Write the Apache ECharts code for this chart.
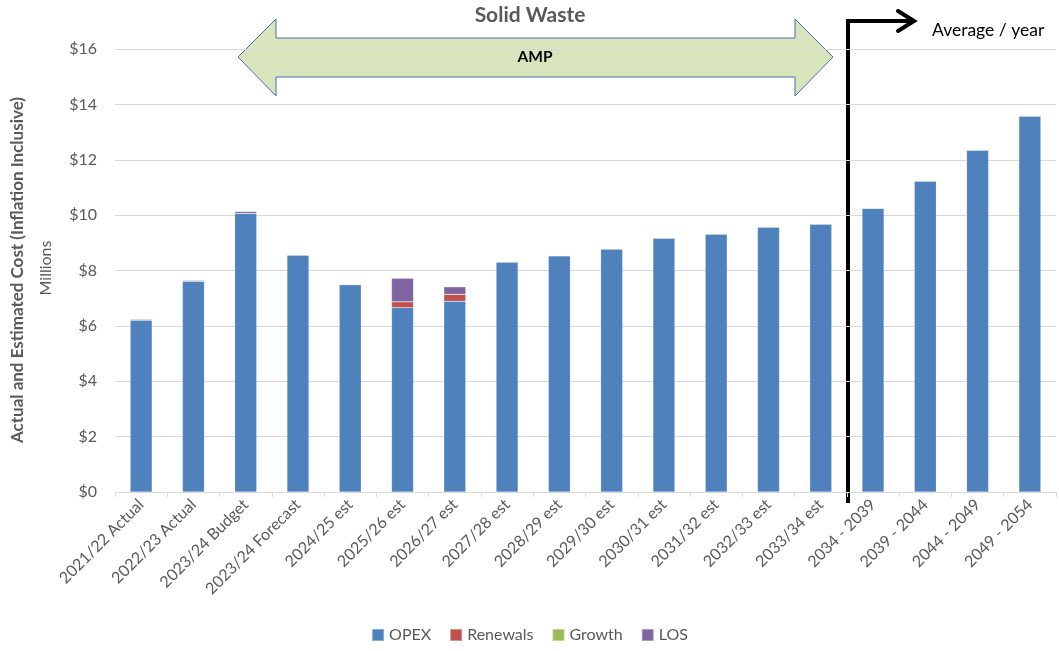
<!DOCTYPE html>
<html>
<head>
<meta charset="utf-8">
<script src="https://cdn.jsdelivr.net/npm/echarts@6/dist/echarts.min.js"></script>
<style>
  html, body { margin: 0; padding: 0; background: #fff; }
  #chart { width: 1059px; height: 651px; }
</style>
</head>
<body>
<div id="chart"></div>
<script>
var categories = ['2021/22 Actual', '2022/23 Actual', '2023/24 Budget', '2023/24 Forecast', '2024/25 est',
  '2025/26 est', '2026/27 est', '2027/28 est', '2028/29 est', '2029/30 est', '2030/31 est',
  '2031/32 est', '2032/33 est', '2033/34 est', '2034 - 2039', '2039 - 2044', '2044 - 2049', '2049 - 2054'];
var opex     = [6.21, 7.61, 10.06, 8.56, 7.49, 6.66, 6.89, 8.31, 8.53, 8.78, 9.17, 9.32, 9.57, 9.68, 10.25, 11.23, 12.35, 13.58];
var renewals = [0, 0.02, 0, 0, 0, 0.21, 0.25, 0, 0, 0, 0, 0, 0, 0, 0, 0, 0, 0];
var growth   = [0, 0, 0, 0, 0, 0, 0, 0, 0, 0, 0, 0, 0, 0, 0, 0, 0, 0];
var los      = [0.03, 0.03, 0.07, 0, 0, 0.85, 0.27, 0, 0, 0, 0, 0, 0, 0, 0, 0, 0, 0];
var yTicks = [0, 2, 4, 6, 8, 10, 12, 14, 16];

var font = 'Lato';
var chart = echarts.init(document.getElementById('chart'));

function bar(name, data, color) {
  return {
    name: name,
    type: 'bar',
    stack: 'total',
    barWidth: '42%',
    data: data,
    itemStyle: { color: color, borderColor: 'rgba(255,255,255,0.35)', borderWidth: 0.5 }
  };
}

var option = {
  animation: false,
  textStyle: { fontFamily: font },
  grid: { left: 115, right: 3, top: 49, bottom: 159 },
  legend: {
    bottom: 3,
    left: 'center',
    itemWidth: 12,
    itemHeight: 12,
    itemGap: 18,
    icon: 'rect',
    textStyle: { color: '#595959', fontSize: 16, fontFamily: font },
    data: ['OPEX', 'Renewals', 'Growth', 'LOS']
  },
  xAxis: {
    type: 'category',
    data: categories,
    axisLine: { lineStyle: { color: '#d9d9d9' } },
    axisTick: { show: true, alignWithLabel: false, length: 5, lineStyle: { color: '#d9d9d9' } },
    axisLabel: { rotate: 45, color: '#595959', fontSize: 16, fontFamily: font, margin: 10, interval: 0 }
  },
  yAxis: {
    type: 'value',
    min: 0,
    max: 16,
    interval: 2,
    axisLine: { show: false },
    axisTick: { show: false },
    splitLine: { lineStyle: { color: '#d9d9d9' } },
    axisLabel: {
      color: '#595959', fontSize: 16, fontFamily: font, margin: 18,
      formatter: function (v) { return yTicks.indexOf(v) >= 0 ? '$' + v : ''; }
    }
  },
  series: [
    bar('OPEX', opex, '#4f81bd'),
    bar('Renewals', renewals, '#c0504d'),
    bar('Growth', growth, '#9bbb59'),
    bar('LOS', los, '#8064a2')
  ],
  graphic: [
    {
      type: 'text', x: 530, y: 15,
      style: { text: 'Solid Waste', fill: '#595959', font: 'bold 21px ' + font,
               align: 'center', verticalAlign: 'middle' }
    },
    {
      type: 'polygon',
      shape: {
        points: [[238, 57], [276, 19], [276, 38], [795, 38], [795, 19], [833, 57],
                 [795, 96], [795, 77], [276, 77], [276, 96]]
      },
      style: { fill: '#d8e4bc', stroke: '#4a6fa5', lineWidth: 1 }
    },
    {
      type: 'text', x: 535, y: 57,
      style: { text: 'AMP', fill: '#000', font: 'bold 15.5px ' + font,
               align: 'center', verticalAlign: 'middle' }
    },
    {
      type: 'polyline',
      shape: { points: [[848, 503], [848, 21], [913, 21]] },
      style: { stroke: '#000', lineWidth: 4, fill: null }
    },
    {
      type: 'polyline',
      shape: { points: [[898, 11], [914, 21], [898, 31]] },
      style: { stroke: '#000', lineWidth: 4, fill: null, lineCap: 'round' }
    },
    {
      type: 'text', x: 932, y: 30,
      style: { text: 'Average / year', fill: '#000', font: '17.5px ' + font,
               align: 'left', verticalAlign: 'middle' }
    },
    {
      type: 'text', x: 18, y: 270, rotation: Math.PI / 2,
      style: { text: 'Actual and Estimated Cost (Inflation Inclusive)', fill: '#595959',
               font: 'bold 17px ' + font, align: 'center', verticalAlign: 'middle' }
    },
    {
      type: 'text', x: 46, y: 268, rotation: Math.PI / 2,
      style: { text: 'Millions', fill: '#595959', font: '16px ' + font,
               align: 'center', verticalAlign: 'middle' }
    }
  ]
};
chart.setOption(option);
</script>
</body>
</html>
